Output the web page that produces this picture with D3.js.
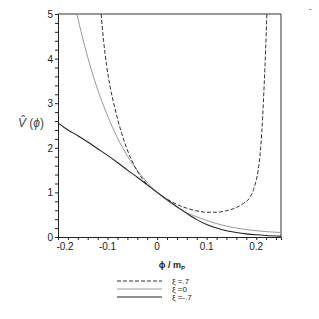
<!DOCTYPE html>
<html>
<head>
<meta charset="utf-8">
<script src="https://cdn.jsdelivr.net/npm/d3@7"></script>
<style>
  body { margin: 0; background: #fff; }
  text { font-family: "Liberation Sans", Arial, sans-serif; }
</style>
</head>
<body>
<svg id="chart" width="319" height="319"></svg>
<script>
// data
var phiPos = [-0.113, -0.108, -0.102, -0.095, -0.085, -0.073, -0.06, -0.045, -0.03, -0.015, 0, 0.02, 0.04, 0.06, 0.08, 0.1, 0.12, 0.14, 0.16, 0.175, 0.188, 0.197, 0.204, 0.209, 0.213, 0.216, 0.219, 0.2215];
var vPos = [5.0, 4.4, 3.85, 3.38, 2.88, 2.38, 1.95, 1.58, 1.31, 1.13, 1.0, 0.85, 0.73, 0.645, 0.585, 0.555, 0.555, 0.59, 0.66, 0.76, 0.9, 1.15, 1.5, 2.0, 2.7, 3.4, 4.2, 5.0];

var phiZero = [-0.164, -0.15, -0.13, -0.115, -0.1, -0.08, -0.06, -0.04, -0.02, 0, 0.02, 0.05, 0.08, 0.1, 0.13, 0.16, 0.2, 0.25];
var vZero = [5.1, 4.45, 3.65, 3.15, 2.72, 2.22, 1.82, 1.49, 1.22, 1.0, 0.82, 0.6, 0.45, 0.37, 0.27, 0.2, 0.14, 0.1];

var phiNeg = [-0.2, -0.18, -0.16, -0.14, -0.12, -0.1, -0.08, -0.06, -0.04, -0.02, 0, 0.02, 0.04, 0.06, 0.08, 0.1, 0.12, 0.14, 0.16, 0.18, 0.2, 0.22, 0.25];
var vNeg = [2.56, 2.4, 2.27, 2.13, 1.98, 1.83, 1.67, 1.5, 1.34, 1.17, 1.0, 0.84, 0.68, 0.53, 0.39, 0.28, 0.2, 0.14, 0.1, 0.07, 0.05, 0.035, 0.02];

var xTicks = [-0.2, -0.1, 0, 0.1, 0.2];
var yTicks = [0, 1, 2, 3, 4, 5];
var legendLabels = ['\u03BE =.7', '\u03BE =0', '\u03BE =-.7'];

var svg = d3.select('#chart');

var x = d3.scaleLinear().domain([-0.2, 0.25]).range([58, 281]);
var y = d3.scaleLinear().domain([0, 5]).range([237, 14]);

svg.append('defs').append('clipPath')
    .attr('id', 'clip')
    .append('rect')
    .attr('x', 58).attr('y', 14)
    .attr('width', 223).attr('height', 223);

// frame (top and right)
svg.append('path')
    .attr('d', 'M58,14H281V237')
    .attr('fill', 'none')
    .attr('stroke', '#333')
    .attr('stroke-width', 1);

// x axis
var xAxis = d3.axisBottom(x)
    .tickValues(d3.range(-0.2, 0.2501, 0.02))
    .tickSize(3)
    .tickFormat('');
svg.append('g')
    .attr('transform', 'translate(0,237)')
    .call(xAxis)
    .call(function (g) {
        g.select('.domain').attr('stroke', '#222');
        g.selectAll('.tick line').attr('stroke', '#222');
    });

svg.append('g').selectAll('text')
    .data(xTicks)
    .enter().append('text')
    .attr('x', function (d) { return x(d) + (d === -0.2 ? 7 : 0); })
    .attr('y', 250)
    .attr('text-anchor', 'middle')
    .attr('font-size', 10)
    .attr('fill', '#222')
    .text(function (d) { return d === 0 ? '0' : String(d); });

// y axis
var yAxis = d3.axisLeft(y)
    .tickValues(d3.range(0, 5.001, 0.2))
    .tickSize(3)
    .tickFormat('');
svg.append('g')
    .attr('transform', 'translate(58,0)')
    .call(yAxis)
    .call(function (g) {
        g.select('.domain').attr('stroke', '#222');
        g.selectAll('.tick line').attr('stroke', '#222');
    });

svg.append('g').selectAll('text')
    .data(yTicks)
    .enter().append('text')
    .attr('x', 53)
    .attr('y', function (d) { return y(d) + 4; })
    .attr('text-anchor', 'end')
    .attr('font-size', 10)
    .attr('fill', '#222')
    .text(function (d) { return d; });

// curves
var line = d3.line()
    .x(function (d) { return x(d[0]); })
    .y(function (d) { return y(d[1]); })
    .curve(d3.curveMonotoneX);

var series = [
    { phi: phiZero, v: vZero, color: '#999', dash: null, width: 1 },
    { phi: phiNeg, v: vNeg, color: '#222', dash: null, width: 1.1 },
    { phi: phiPos, v: vPos, color: '#333', dash: '4,2', width: 1 }
];

var curves = svg.append('g').attr('clip-path', 'url(#clip)');
series.forEach(function (s) {
    curves.append('path')
        .datum(d3.zip(s.phi, s.v))
        .attr('d', line)
        .attr('fill', 'none')
        .attr('stroke', s.color)
        .attr('stroke-width', s.width)
        .attr('stroke-dasharray', s.dash);
});

// axis titles
var yl = svg.append('text')
    .attr('x', 18)
    .attr('y', 127)
    .attr('font-family', 'Liberation Serif, Times New Roman, serif')
    .attr('font-size', 12)
    .attr('fill', '#3a4a4a');
yl.append('tspan').attr('font-style', 'italic').text('V\u0302');
yl.append('tspan').text(' (');
yl.append('tspan').attr('font-style', 'italic').text('\u03D5');
yl.append('tspan').text(')');

var xl = svg.append('text')
    .attr('x', 172)
    .attr('y', 268)
    .attr('text-anchor', 'middle')
    .attr('font-family', 'Liberation Serif, Times New Roman, serif')
    .attr('font-size', 9)
    .attr('font-weight', 'bold')
    .attr('fill', '#222');
xl.append('tspan').text('\u03D5 / m');
xl.append('tspan').attr('font-size', 6).attr('dy', 2).text('P');

// legend
var legendY = [281, 289, 297];
var legendSeries = [series[2], series[0], series[1]];
var legend = svg.append('g');
legendSeries.forEach(function (s, i) {
    legend.append('line')
        .attr('x1', 117).attr('x2', 162)
        .attr('y1', legendY[i]).attr('y2', legendY[i])
        .attr('stroke', s.color)
        .attr('stroke-width', s.width)
        .attr('stroke-dasharray', s.dash);
    legend.append('text')
        .attr('x', 172)
        .attr('y', legendY[i] + 3)
        .attr('font-size', 8)
        .attr('fill', '#222')
        .text(legendLabels[i]);
});

// stray mark in the top right corner
svg.append('text')
    .attr('x', 309).attr('y', 11)
    .attr('font-size', 8)
    .attr('fill', '#222')
    .text('-');
</script>
</body>
</html>
